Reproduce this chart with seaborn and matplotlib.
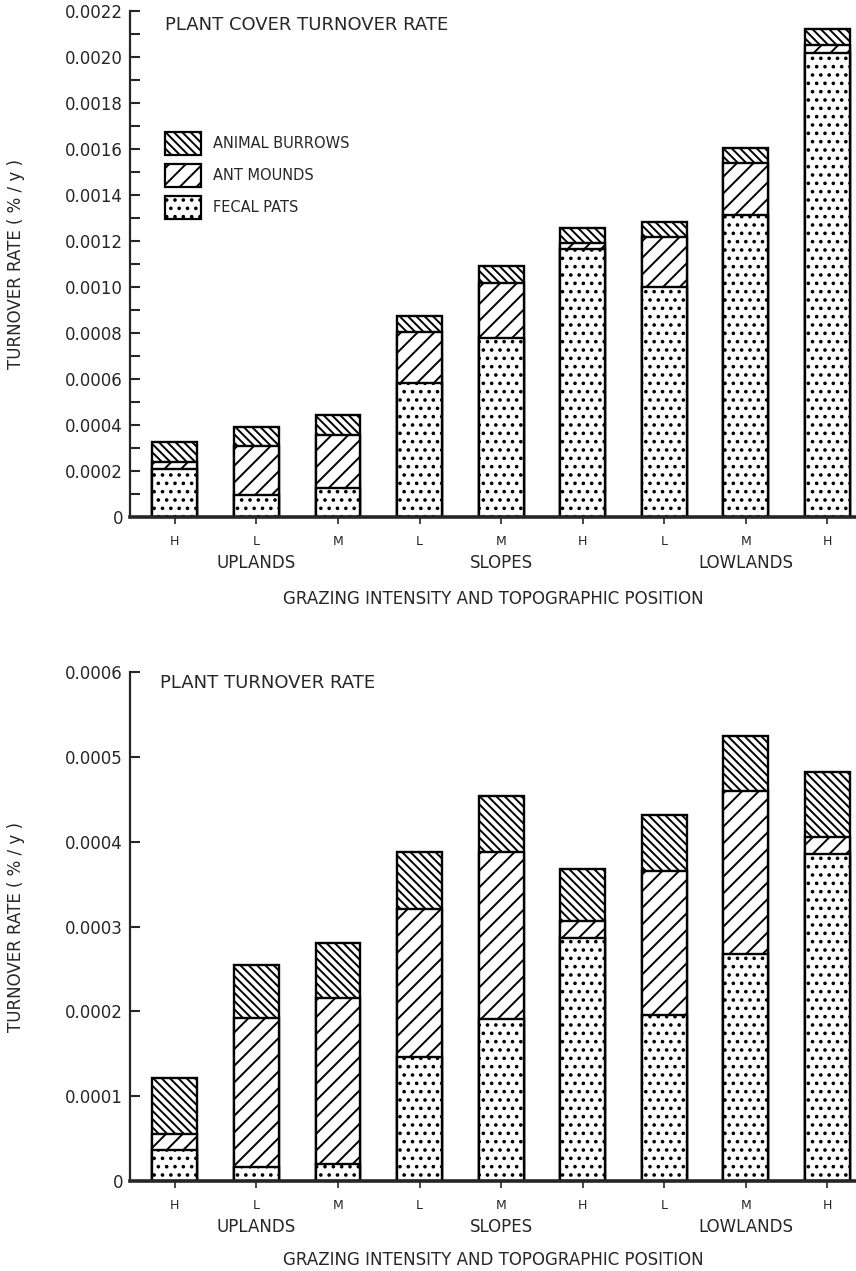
import numpy as np
import pandas as pd
import matplotlib
matplotlib.use("Agg")
import matplotlib.pyplot as plt
import seaborn as sns
from matplotlib.patches import Patch
from matplotlib.ticker import FixedLocator, FixedFormatter
from matplotlib.transforms import blended_transform_factory

# ---------------- data ----------------
intensity = ["H", "L", "M", "L", "M", "H", "L", "M", "H"]
position_of_bar = ["UPLANDS"] * 3 + ["SLOPES"] * 3 + ["LOWLANDS"] * 3
group_labels = ["UPLANDS", "SLOPES", "LOWLANDS"]
bar_keys = [f"{p}-{i}-{k}" for k, (p, i) in enumerate(zip(position_of_bar, intensity))]

legend_labels = ["ANIMAL BURROWS", "ANT MOUNDS", "FECAL PATS"]

# Plant cover turnover rate (%/y)
cover_fecal = [0.000210, 0.000096, 0.000127, 0.000584, 0.000777, 0.001164, 0.001001, 0.001313, 0.002016]
cover_ant = [0.000030, 0.000214, 0.000230, 0.000222, 0.000239, 0.000029, 0.000215, 0.000225, 0.000034]
cover_burrows = [0.000087, 0.000083, 0.000086, 0.000068, 0.000077, 0.000065, 0.000068, 0.000068, 0.000070]

# Plant turnover rate (%/y)
plant_fecal = [0.000036, 0.000016, 0.000020, 0.000146, 0.000191, 0.000286, 0.000196, 0.000267, 0.000386]
plant_ant = [0.000019, 0.000176, 0.000196, 0.000175, 0.000197, 0.000021, 0.000169, 0.000193, 0.000020]
plant_burrows = [0.000067, 0.000063, 0.000064, 0.000067, 0.000066, 0.000061, 0.000066, 0.000064, 0.000076]

cover_yticks = ["0", "0.0002", "0.0004", "0.0006", "0.0008", "0.0010", "0.0012",
                "0.0014", "0.0016", "0.0018", "0.0020", "0.0022"]
cover_minor = ["0.0001", "0.0003", "0.0005", "0.0007", "0.0009", "0.0011",
               "0.0013", "0.0015", "0.0017", "0.0019", "0.0021"]
plant_yticks = ["0", "0.0001", "0.0002", "0.0003", "0.0004", "0.0005", "0.0006"]

titles = ["PLANT COVER TURNOVER RATE", "PLANT TURNOVER RATE"]
ylabel = "TURNOVER RATE ( % / y )"
xlabel = "GRAZING INTENSITY AND TOPOGRAPHIC POSITION"

# ---------------- style ----------------
sns.set_style("ticks")
plt.rcParams["font.family"] = ["DejaVu Sans"]
plt.rcParams["hatch.color"] = "black"
plt.rcParams["hatch.linewidth"] = 1.4

HATCH_BURROWS = "\\\\\\\\"
HATCH_ANT = "//"
HATCH_FECAL = ".."

fig = plt.figure(figsize=(8.56, 12.71), dpi=100)
W, H = 856, 1271
ax1 = fig.add_axes([130 / W, 1 - 517 / H, 726 / W, 506 / H])
ax2 = fig.add_axes([130 / W, 1 - 1181 / H, 726 / W, 509 / H])


def draw(ax, fecal, ant, burrows):
    df = pd.DataFrame({"bar": bar_keys, "fecal": fecal, "ant": ant, "burrows": burrows})
    df["lvl_fecal"] = df["fecal"]
    df["lvl_ant"] = df["fecal"] + df["ant"]
    df["lvl_total"] = df["lvl_ant"] + df["burrows"]
    for col, hatch in [("lvl_total", HATCH_BURROWS), ("lvl_ant", HATCH_ANT), ("lvl_fecal", HATCH_FECAL)]:
        n0 = len(ax.patches)
        sns.barplot(data=df, x="bar", y=col, order=bar_keys, color="white", saturation=1,
                    width=0.55, edgecolor="black", linewidth=1.7, errorbar=None, ax=ax)
        for p in ax.patches[n0:]:
            p.set_hatch(hatch)
            p.set_facecolor("white")
            p.set_edgecolor("black")


def style(ax, ticks, minor, title, title_xy, group_y, xlabel_y):
    ax.set_xlim(-0.55, 8.35)
    vals = [float(t) for t in ticks]
    ax.set_ylim(0, vals[-1])
    ax.yaxis.set_major_locator(FixedLocator(vals))
    ax.yaxis.set_major_formatter(FixedFormatter(ticks))
    if minor:
        ax.yaxis.set_minor_locator(FixedLocator([float(t) for t in minor]))
    ax.tick_params(axis="y", which="both", direction="in", length=7, width=1.5,
                   labelsize=12, pad=5)
    ax.set_xticks(range(len(intensity)))
    ax.set_xticklabels(intensity, fontsize=9)
    ax.tick_params(axis="x", direction="out", length=5, width=1.2, pad=8)
    for side in ["top", "right"]:
        ax.spines[side].set_visible(False)
    ax.spines["left"].set_linewidth(1.6)
    ax.spines["bottom"].set_linewidth(2.6)
    ax.set_ylabel(ylabel, fontsize=12)
    ax.yaxis.set_label_coords(-0.145, 0.5)
    ax.set_xlabel(xlabel, fontsize=12)
    ax.xaxis.set_label_coords(0.5, xlabel_y)
    trans = blended_transform_factory(ax.transData, ax.transAxes)
    for g, lbl in enumerate(group_labels):
        ax.text(3 * g + 1, group_y, lbl, transform=trans, ha="center", va="center", fontsize=12)
    ax.text(title_xy[0], title_xy[1], title, transform=ax.transAxes, ha="left", va="center",
            fontsize=13)


draw(ax1, cover_fecal, cover_ant, cover_burrows)
draw(ax2, plant_fecal, plant_ant, plant_burrows)

style(ax1, cover_yticks, cover_minor, titles[0], (0.048, 0.972), -0.091, -0.144)
style(ax2, plant_yticks, None, titles[1], (0.041, 0.978), -0.090, -0.1375)

handles = [Patch(facecolor="white", edgecolor="black", hatch=h, linewidth=1.6)
           for h in [HATCH_BURROWS, HATCH_ANT, HATCH_FECAL]]
fig.legend(handles, legend_labels, loc="upper left", bbox_to_anchor=(165 / W, 1 - 132 / H),
           frameon=False, fontsize=10.5, handlelength=2.5, handleheight=2.0,
           handletextpad=0.8, labelspacing=0.65, borderpad=0, borderaxespad=0)

fig.savefig("out.png", dpi=100)
